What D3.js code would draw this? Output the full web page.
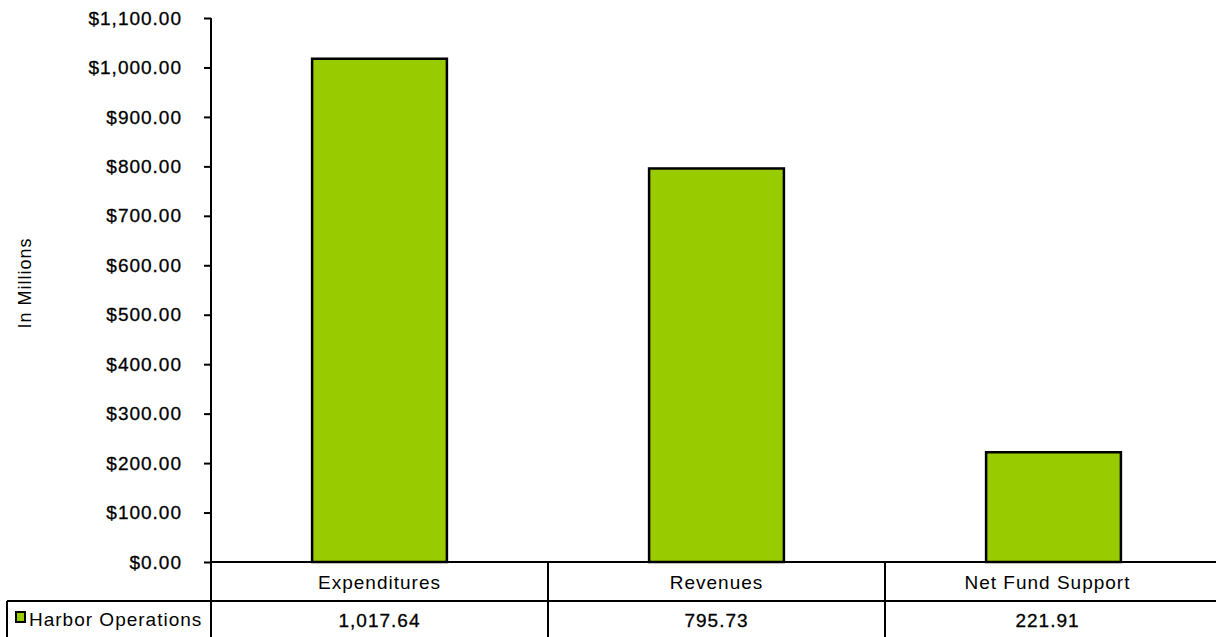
<!DOCTYPE html>
<html>
<head>
<meta charset="utf-8">
<script src="https://cdn.jsdelivr.net/npm/d3@7"></script>
<style>
  body { margin: 0; background: #fff; }
  svg { display: block; font-family: "Liberation Sans", Arial, sans-serif; }
  text { letter-spacing: 1px; fill: #000; }
</style>
</head>
<body>
<svg id="chart" width="1216" height="637"></svg>
<script>
var categories = ['Expenditures', 'Revenues', 'Net Fund Support'];
var seriesName = 'Harbor Operations';
var values = [1017.64, 795.73, 221.91];
var valueLabels = ['1,017.64', '795.73', '221.91'];
var yTicks = [0, 100, 200, 300, 400, 500, 600, 700, 800, 900, 1000, 1100];

var chart = (function() {
    var svg = d3.select('#chart');
    var W = 1216, H = 637;
    var plotLeft = 211, plotRight = 1222, plotTop = 18, base = 562;
    var row2 = 601;

    var x = d3.scaleBand()
        .domain(categories)
        .range([plotLeft, plotRight])
        .paddingInner(0)
        .paddingOuter(0);

    var y = d3.scaleLinear()
        .domain([0, 1100])
        .range([base, plotTop]);

    var fmt = function(d) { return '$' + d3.format(',.2f')(d) };

    function line(x1, y1, x2, y2) {
        svg.append('line')
            .attr('x1', x1).attr('y1', y1)
            .attr('x2', x2).attr('y2', y2)
            .attr('stroke', '#000')
            .attr('stroke-width', 2);
    }

    // y axis
    var yAxis = d3.axisLeft(y)
        .tickValues(yTicks)
        .tickFormat(fmt)
        .tickSize(7)
        .tickPadding(22)
        .tickSizeOuter(0);

    var gy = svg.append('g')
        .attr('transform', 'translate(' + plotLeft + ',0)')
        .call(yAxis);
    gy.select('.domain').remove();
    gy.selectAll('.tick line')
        .attr('stroke', '#000')
        .attr('stroke-width', 2);
    gy.selectAll('.tick text')
        .attr('fill', '#000')
        .attr('stroke', '#000')
        .attr('stroke-width', 0.3)
        .style('font-size', '19px')
        .style('font-family', '"Liberation Sans", Arial, sans-serif');

    // bars
    var barW = x.bandwidth() * 0.4;
    svg.append('g')
        .selectAll('rect')
        .data(values)
        .enter()
        .append('rect')
        .attr('x', function(d, i) { return x(categories[i]) + (x.bandwidth() - barW) / 2 })
        .attr('y', function(d) { return y(d) })
        .attr('width', barW)
        .attr('height', function(d) { return base - y(d) })
        .attr('fill', '#99cc00')
        .attr('stroke', '#000')
        .attr('stroke-width', 2.5);

    // axis line runs down through the data table
    line(plotLeft, plotTop, plotLeft, H);

    // data table grid
    line(plotLeft, base, W, base);
    line(7, row2, W, row2);
    line(7, row2, 7, H);
    categories.slice(1).forEach(function(c) {
        line(x(c), base, x(c), H);
    });

    // centre of each column, clipped to visible width for the last one
    function colMid(i) {
        var a = x(categories[i]), b = Math.min(a + x.bandwidth(), W - 6);
        return (a + b) / 2;
    }

    svg.append('g')
        .selectAll('text')
        .data(categories)
        .enter()
        .append('text')
        .attr('x', function(d, i) { return colMid(i) })
        .attr('y', 589)
        .attr('text-anchor', 'middle')
        .style('font-size', '19px')
        .text(function(d) { return d });

    svg.append('g')
        .selectAll('text')
        .data(valueLabels)
        .enter()
        .append('text')
        .attr('x', function(d, i) { return colMid(i) })
        .attr('y', 627)
        .attr('text-anchor', 'middle')
        .attr('stroke', '#000')
        .attr('stroke-width', 0.3)
        .style('font-size', '19px')
        .text(function(d) { return d });

    // legend key in the table
    svg.append('rect')
        .attr('x', 16).attr('y', 612)
        .attr('width', 9).attr('height', 10)
        .attr('fill', '#99cc00')
        .attr('stroke', '#000').attr('stroke-width', 2);
    svg.append('text')
        .attr('x', 29).attr('y', 626)
        .style('font-size', '19px')
        .text(seriesName);

    // y axis title
    svg.append('text')
        .attr('transform', 'translate(31,283) rotate(-90)')
        .attr('text-anchor', 'middle')
        .style('font-size', '18px')
        .text('In Millions');
})();
</script>
</body>
</html>
